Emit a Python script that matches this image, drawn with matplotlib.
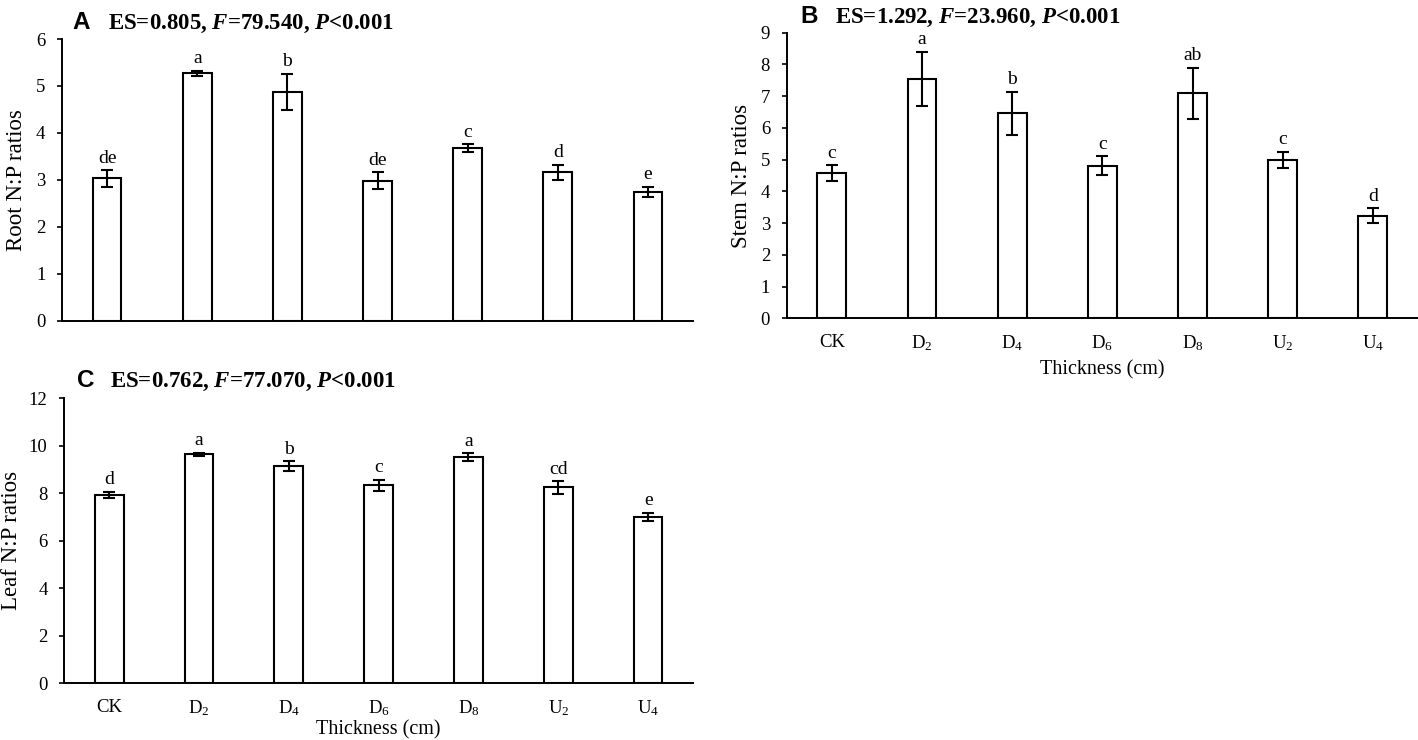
import matplotlib
matplotlib.use("Agg")
import matplotlib.pyplot as plt
import numpy as np

# ---- data ----
categories = ['CK', 'D$_2$', 'D$_4$', 'D$_6$', 'D$_8$', 'U$_2$', 'U$_4$']

root_mean = [3.03, 5.27, 4.87, 2.98, 3.68, 3.16, 2.74]
root_err = [0.18, 0.05, 0.39, 0.18, 0.08, 0.16, 0.11]
root_letters = ['de', 'a', 'b', 'de', 'c', 'd', 'e']

stem_mean = [4.57, 7.54, 6.46, 4.80, 7.09, 4.99, 3.23]
stem_err = [0.25, 0.86, 0.68, 0.30, 0.80, 0.26, 0.24]
stem_letters = ['c', 'a', 'b', 'c', 'ab', 'c', 'd']

leaf_mean = [7.94, 9.64, 9.14, 8.34, 9.52, 8.25, 7.00]
leaf_err = [0.12, 0.07, 0.20, 0.24, 0.16, 0.26, 0.18]
leaf_letters = ['d', 'a', 'b', 'c', 'a', 'cd', 'e']

titles = ['ES=0.805, $F$=79.540, $P$<0.001',
          'ES=1.292, $F$=23.960, $P$<0.001',
          'ES=0.762, $F$=77.070, $P$<0.001']
panel_letters = ['A', 'B', 'C']
ylabels = ['Root N:P ratios', 'Stem N:P ratios', 'Leaf N:P ratios']
xlabel = 'Thickness (cm)'

# ---- style ----
plt.rcParams['font.family'] = ['Liberation Serif', 'DejaVu Serif']
plt.rcParams['mathtext.fontset'] = 'custom'
plt.rcParams['mathtext.rm'] = 'Liberation Serif'
plt.rcParams['mathtext.it'] = 'Liberation Serif:italic:bold'
plt.rcParams['mathtext.bf'] = 'Liberation Serif:bold'

W, H = 1418, 740
fig = plt.figure(figsize=(W / 100, H / 100), dpi=100)


def px_axes(left, right, top, bottom):
    return fig.add_axes([left / W, 1 - bottom / H, (right - left) / W, (bottom - top) / H])


axA = px_axes(62, 693, 39, 320.7)
axB = px_axes(786.7, 1418, 32.7, 318.3)
axC = px_axes(64.3, 693, 398.3, 683.3)

specs = [
    (axA, root_mean, root_err, root_letters, 6, 1, False, 0),
    (axB, stem_mean, stem_err, stem_letters, 9, 1, True, 1),
    (axC, leaf_mean, leaf_err, leaf_letters, 12, 2, True, 2),
]

x = np.arange(len(categories))
for ax, mean, err, letters, ymax, step, show_x, i in specs:
    ax.bar(x, mean, width=0.32, color='white', edgecolor='black', linewidth=1.5, zorder=2)
    ax.errorbar(x, mean, yerr=err, fmt='none', ecolor='black', elinewidth=1.5,
                capsize=4.2, capthick=1.5, zorder=3)
    for xi, m, e, lab in zip(x, mean, err, letters):
        ax.annotate(lab, (xi, m + e), xytext=(0, 2.5), textcoords='offset points',
                    ha='center', va='bottom', fontsize=14)
    ax.set_xlim(-0.5, 6.5)
    ax.set_ylim(0, ymax)
    ax.set_yticks(np.arange(0, ymax + 0.01, step))
    ax.spines['top'].set_visible(False)
    ax.spines['right'].set_visible(False)
    ax.spines['left'].set_linewidth(1.4)
    ax.spines['bottom'].set_linewidth(1.4)
    ax.tick_params(axis='y', direction='out', length=3.5, width=1.2, pad=8.5, labelsize=13.5)
    ax.set_xticks(x)
    if show_x:
        ax.set_xticklabels(categories)
        ax.tick_params(axis='x', length=0, pad=11, labelsize=13.5)
        ax.set_xlabel(xlabel, fontsize=14.5)
    else:
        ax.set_xticklabels([])
        ax.tick_params(axis='x', length=0)
    ax.set_ylabel(ylabels[i], fontsize=16.5)
    ax.yaxis.label.set_verticalalignment('center')

axA.yaxis.set_label_coords(-45 / 631, 0.5)
axB.yaxis.set_label_coords(-45 / 631.3, 0.5)
axC.yaxis.set_label_coords(-53 / 628.7, 0.5)
axB.xaxis.set_label_coords(0.5, -52 / 285.6)
axC.xaxis.set_label_coords(0.5, -47 / 285)
axB.xaxis.label.set_verticalalignment('center')
axC.xaxis.label.set_verticalalignment('center')

# titles
title_pos = [(72, 108, 29), (800, 835, 23), (77, 110, 386.5)]
for (lx, tx, by), pl, tt in zip(title_pos, panel_letters, titles):
    fig.text(lx / W, 1 - by / H, pl, family=['Liberation Sans', 'DejaVu Sans'],
             fontweight='bold', fontsize=17.5, ha='left', va='baseline')
    fig.text(tx / W, 1 - by / H, tt, fontweight='bold', fontsize=16.5,
             ha='left', va='baseline')

fig.savefig('out.png', dpi=100)
